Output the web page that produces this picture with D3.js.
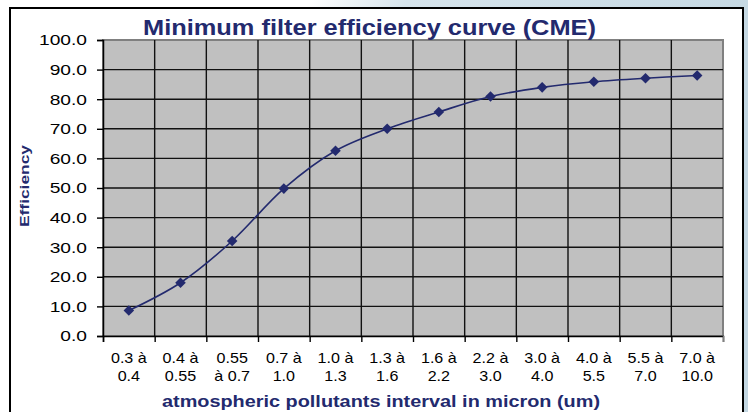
<!DOCTYPE html>
<html>
<head>
<meta charset="utf-8">
<script src="https://cdn.jsdelivr.net/npm/d3@7"></script>
<style>
  html, body { margin: 0; padding: 0; }
  body { width: 748px; height: 412px; overflow: hidden; font-family: "Liberation Sans", Arial, sans-serif; }
</style>
</head>
<body>
<svg id="chart"></svg>
<script>
// data
const categories = [
  "0.3 à\n0.4", "0.4 à\n0.55", "0.55\nà 0.7", "0.7 à\n1.0", "1.0 à\n1.3", "1.3 à\n1.6",
  "1.6 à\n2.2", "2.2 à\n3.0", "3.0 à\n4.0", "4.0 à\n5.5", "5.5 à\n7.0", "7.0 à\n10.0"
]
const efficiency = [8.6, 18.0, 32.1, 49.8, 62.6, 70.0, 75.7, 80.9, 84.0, 85.9, 87.1, 88.0]
const yTicks = [0, 10, 20, 30, 40, 50, 60, 70, 80, 90, 100]

const width = 748
const height = 412
const plot = { left: 103, right: 723, top: 40, bottom: 336 }
const navy = "#232a6e"

const svg = d3.select("#chart")
  .attr("width", width)
  .attr("height", height)

// background wash behind the chart box
const defs = svg.append("defs")
const grad = defs.append("linearGradient")
  .attr("id", "bg")
  .attr("x1", "0").attr("y1", "0")
  .attr("x2", "1").attr("y2", "0.3")
grad.append("stop").attr("offset", "0.38").attr("stop-color", "#ffffff")
grad.append("stop").attr("offset", "0.5").attr("stop-color", "#d6e4ec")
grad.append("stop").attr("offset", "1").attr("stop-color", "#c3d7e2")

svg.append("rect")
  .attr("width", width).attr("height", height)
  .attr("fill", "url(#bg)")

// chart box
svg.append("rect")
  .attr("x", 10).attr("y", 8)
  .attr("width", 733).attr("height", 420)
  .attr("fill", "#fff")
  .attr("stroke", "#000")
  .attr("stroke-width", 2)

//scales
const x = d3.scaleBand()
  .domain(categories)
  .range([plot.left, plot.right])

const xEdge = d3.scaleLinear()
  .domain([0, categories.length])
  .range([plot.left, plot.right])

const y = d3.scaleLinear()
  .domain([0, 100])
  .range([plot.bottom, plot.top])

// plot area
svg.append("rect")
  .attr("x", plot.left).attr("y", plot.top)
  .attr("width", plot.right - plot.left)
  .attr("height", plot.bottom - plot.top)
  .attr("fill", "#c0c0c0")
  .attr("stroke", "#808080")
  .attr("stroke-width", 2)

// grid
const grid = svg.append("g")
  .attr("stroke", "#111")
  .attr("stroke-width", 1.4)

grid.selectAll("line.h")
  .data(yTicks.filter(d => d > 0 && d < 100))
  .join("line")
  .attr("class", "h")
  .attr("x1", plot.left).attr("x2", plot.right)
  .attr("y1", d => y(d)).attr("y2", d => y(d))

grid.selectAll("line.v")
  .data(d3.range(1, categories.length))
  .join("line")
  .attr("class", "v")
  .attr("x1", d => xEdge(d)).attr("x2", d => xEdge(d))
  .attr("y1", plot.top).attr("y2", plot.bottom)

// y axis
const yAxis = svg.append("g")
  .attr("transform", `translate(${plot.left},0)`)
  .call(d3.axisLeft(y).tickValues(yTicks).tickSize(6).tickFormat(d3.format(".1f")))

yAxis.select(".domain").attr("stroke", "#000").attr("stroke-width", 1.5)
yAxis.selectAll(".tick line").attr("stroke", "#000").attr("stroke-width", 1.4)
yAxis.selectAll(".tick text")
  .attr("x", 0)
  .attr("transform", "translate(-16,0) scale(1.28,1)")
  .attr("font-family", "Liberation Sans, Arial, sans-serif")
  .attr("font-size", 15)
  .attr("fill", "#000")

// x axis: tick marks between categories
const xTicks = svg.append("g")
  .attr("transform", `translate(0,${plot.bottom})`)
  .call(d3.axisBottom(xEdge).tickValues(d3.range(0, categories.length + 1)).tickSize(6).tickFormat(""))

xTicks.select(".domain").attr("stroke", "#000").attr("stroke-width", 1.5)
xTicks.selectAll(".tick line").attr("stroke", "#000").attr("stroke-width", 1.4)
xTicks.selectAll(".tick").filter(d => d === categories.length).select("line").attr("stroke", "#808080")

// x axis: category labels (two lines each)
const xLabels = svg.append("g")
  .attr("transform", `translate(0,${plot.bottom})`)
  .call(d3.axisBottom(x).tickSize(0).tickFormat(""))

xLabels.select(".domain").remove()
xLabels.selectAll(".tick").each(function (d) {
  const lines = d.split("\n")
  d3.select(this).selectAll("text.lbl")
    .data(lines)
    .join("text")
    .attr("class", "lbl")
    .attr("transform", (l, i) => `translate(0,${27 + i * 17.5}) scale(1.15,1)`)
    .attr("text-anchor", "middle")
    .attr("font-family", "Liberation Sans, Arial, sans-serif")
    .attr("font-size", 14)
    .attr("fill", "#000")
    .text(l => l)
})

// curve
const line = d3.line()
  .x((d, i) => x(categories[i]) + x.bandwidth() / 2)
  .y(d => y(d))
  .curve(d3.curveCatmullRom.alpha(0.5))

svg.append("path")
  .datum(efficiency)
  .attr("d", line)
  .attr("fill", "none")
  .attr("stroke", navy)
  .attr("stroke-width", 1.6)

svg.append("g")
  .selectAll("path")
  .data(efficiency)
  .join("path")
  .attr("transform", (d, i) => `translate(${x(categories[i]) + x.bandwidth() / 2},${y(d)}) rotate(45)`)
  .attr("d", d3.symbol().type(d3.symbolSquare).size(56))
  .attr("fill", navy)

// titles
svg.append("text")
  .attr("x", 143).attr("y", 35)
  .attr("textLength", 453)
  .attr("lengthAdjust", "spacingAndGlyphs")
  .attr("font-family", "Liberation Sans, Arial, sans-serif")
  .attr("font-weight", "bold")
  .attr("font-size", 21.5)
  .attr("fill", navy)
  .text("Minimum filter efficiency curve (CME)")

svg.append("text")
  .attr("x", 162).attr("y", 407)
  .attr("textLength", 438)
  .attr("lengthAdjust", "spacingAndGlyphs")
  .attr("font-family", "Liberation Sans, Arial, sans-serif")
  .attr("font-weight", "bold")
  .attr("font-size", 17)
  .attr("fill", navy)
  .text("atmospheric pollutants interval in micron (um)")

svg.append("text")
  .attr("transform", "translate(28.5,227) rotate(-90)")
  .attr("textLength", 82)
  .attr("lengthAdjust", "spacingAndGlyphs")
  .attr("font-family", "Liberation Sans, Arial, sans-serif")
  .attr("font-weight", "bold")
  .attr("font-size", 13.5)
  .attr("fill", navy)
  .text("Efficiency")
</script>
</body>
</html>
